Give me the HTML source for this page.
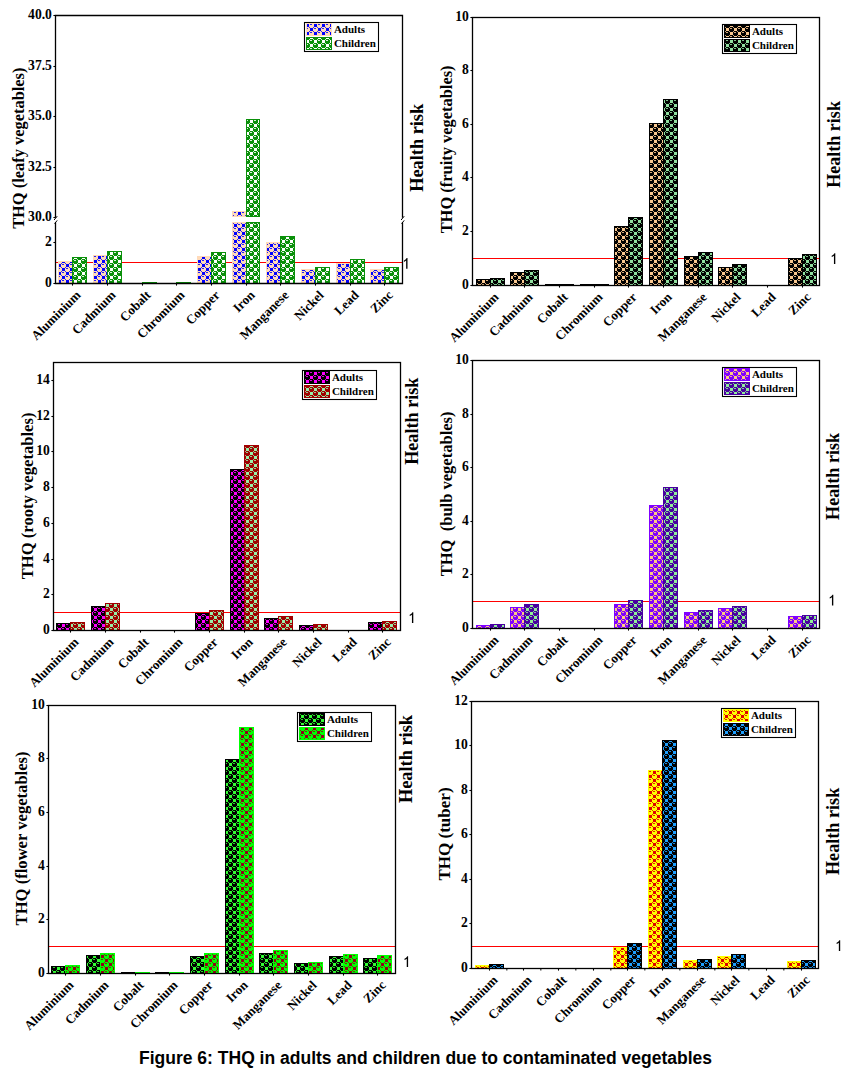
<!DOCTYPE html>
<html><head><meta charset="utf-8"><title>Figure 6</title>
<style>
html,body{margin:0;padding:0;background:#fff;}
body{width:849px;height:1081px;overflow:hidden;font-family:"Liberation Serif",serif;}
svg{display:block;}
text{fill:#000;}
</style></head><body>
<svg width="849" height="1081" viewBox="0 0 849 1081">
<rect width="849" height="1081" fill="#fff"/>
<defs>
<pattern id="p1a" width="8" height="8" patternUnits="userSpaceOnUse" patternTransform="translate(2,0)"><rect width="8" height="8" fill="#FFDAB9"/><path d="M0 0h3v3h-3zM4 4h3v3h-3z" fill="#0000FF" shape-rendering="crispEdges"/><path d="M4 0h2v1h-2zM0 4h2v1h-2z" fill="#0000FF" fill-opacity="0.85" shape-rendering="crispEdges"/><path d="M3 3h1v1h-1zM7 3h1v1h-1zM3 7h1v1h-1zM7 7h1v1h-1z" fill="#0000FF" fill-opacity="0.8" shape-rendering="crispEdges"/></pattern>
<pattern id="p1c" width="8" height="8" patternUnits="userSpaceOnUse" patternTransform="translate(2,0)"><rect width="8" height="8" fill="#0A900A"/><path d="M0 0h3v3h-3zM4 4h3v3h-3z" fill="#FFFFFF" shape-rendering="crispEdges"/><path d="M4 0h2v1h-2zM0 4h2v1h-2z" fill="#FFFFFF" fill-opacity="0.85" shape-rendering="crispEdges"/><path d="M3 3h1v1h-1zM7 3h1v1h-1zM3 7h1v1h-1zM7 7h1v1h-1z" fill="#FFFFFF" fill-opacity="0.8" shape-rendering="crispEdges"/></pattern>
<pattern id="p2a" width="8" height="8" patternUnits="userSpaceOnUse" patternTransform="translate(2,0)"><rect width="8" height="8" fill="#000000"/><path d="M0 0h3v3h-3zM4 4h3v3h-3z" fill="#FAC890" shape-rendering="crispEdges"/><path d="M4 0h2v1h-2zM0 4h2v1h-2z" fill="#FAC890" fill-opacity="0.85" shape-rendering="crispEdges"/><path d="M3 3h1v1h-1zM7 3h1v1h-1zM3 7h1v1h-1zM7 7h1v1h-1z" fill="#FAC890" fill-opacity="0.8" shape-rendering="crispEdges"/></pattern>
<pattern id="p2c" width="8" height="8" patternUnits="userSpaceOnUse" patternTransform="translate(2,0)"><rect width="8" height="8" fill="#000000"/><path d="M0 0h3v3h-3zM4 4h3v3h-3z" fill="#90E0A0" shape-rendering="crispEdges"/><path d="M4 0h2v1h-2zM0 4h2v1h-2z" fill="#90E0A0" fill-opacity="0.85" shape-rendering="crispEdges"/><path d="M3 3h1v1h-1zM7 3h1v1h-1zM3 7h1v1h-1zM7 7h1v1h-1z" fill="#90E0A0" fill-opacity="0.8" shape-rendering="crispEdges"/></pattern>
<pattern id="p3a" width="8" height="8" patternUnits="userSpaceOnUse" patternTransform="translate(6,0)"><rect width="8" height="8" fill="#000000"/><path d="M0 0h3v3h-3zM4 4h3v3h-3z" fill="#FF00FF" shape-rendering="crispEdges"/><path d="M4 0h2v1h-2zM0 4h2v1h-2z" fill="#FF00FF" fill-opacity="0.85" shape-rendering="crispEdges"/><path d="M3 3h1v1h-1zM7 3h1v1h-1zM3 7h1v1h-1zM7 7h1v1h-1z" fill="#FF00FF" fill-opacity="0.8" shape-rendering="crispEdges"/></pattern>
<pattern id="p3c" width="8" height="8" patternUnits="userSpaceOnUse" patternTransform="translate(6,0)"><rect width="8" height="8" fill="#A00000"/><path d="M0 0h3v3h-3zM4 4h3v3h-3z" fill="#98F0A8" shape-rendering="crispEdges"/><path d="M4 0h2v1h-2zM0 4h2v1h-2z" fill="#98F0A8" fill-opacity="0.85" shape-rendering="crispEdges"/><path d="M3 3h1v1h-1zM7 3h1v1h-1zM3 7h1v1h-1zM7 7h1v1h-1z" fill="#98F0A8" fill-opacity="0.8" shape-rendering="crispEdges"/></pattern>
<pattern id="p4a" width="8" height="8" patternUnits="userSpaceOnUse" patternTransform="translate(2,4)"><rect width="8" height="8" fill="#8000FF"/><path d="M0 0h3v3h-3zM4 4h3v3h-3z" fill="#FFCC80" shape-rendering="crispEdges"/><path d="M4 0h2v1h-2zM0 4h2v1h-2z" fill="#FFCC80" fill-opacity="0.85" shape-rendering="crispEdges"/><path d="M3 3h1v1h-1zM7 3h1v1h-1zM3 7h1v1h-1zM7 7h1v1h-1z" fill="#FFCC80" fill-opacity="0.8" shape-rendering="crispEdges"/></pattern>
<pattern id="p4c" width="8" height="8" patternUnits="userSpaceOnUse" patternTransform="translate(2,4)"><rect width="8" height="8" fill="#4800A0"/><path d="M0 0h3v3h-3zM4 4h3v3h-3z" fill="#90F098" shape-rendering="crispEdges"/><path d="M4 0h2v1h-2zM0 4h2v1h-2z" fill="#90F098" fill-opacity="0.85" shape-rendering="crispEdges"/><path d="M3 3h1v1h-1zM7 3h1v1h-1zM3 7h1v1h-1zM7 7h1v1h-1z" fill="#90F098" fill-opacity="0.8" shape-rendering="crispEdges"/></pattern>
<pattern id="p5a" width="8" height="8" patternUnits="userSpaceOnUse" patternTransform="translate(5,3)"><rect width="8" height="8" fill="#000000"/><path d="M0 0h3v3h-3zM4 4h3v3h-3z" fill="#33FF33" shape-rendering="crispEdges"/><path d="M4 0h2v1h-2zM0 4h2v1h-2z" fill="#33FF33" fill-opacity="0.85" shape-rendering="crispEdges"/><path d="M3 3h1v1h-1zM7 3h1v1h-1zM3 7h1v1h-1zM7 7h1v1h-1z" fill="#33FF33" fill-opacity="0.8" shape-rendering="crispEdges"/></pattern>
<pattern id="p5c" width="8" height="8" patternUnits="userSpaceOnUse" patternTransform="translate(5,3)"><rect width="8" height="8" fill="#00FF00"/><path d="M0 0h3v3h-3zM4 4h3v3h-3z" fill="#900018" shape-rendering="crispEdges"/><path d="M4 0h2v1h-2zM0 4h2v1h-2z" fill="#900018" fill-opacity="0.85" shape-rendering="crispEdges"/><path d="M3 3h1v1h-1zM7 3h1v1h-1zM3 7h1v1h-1zM7 7h1v1h-1z" fill="#900018" fill-opacity="0.8" shape-rendering="crispEdges"/></pattern>
<pattern id="p6a" width="8" height="8" patternUnits="userSpaceOnUse" patternTransform="translate(5,3)"><rect width="8" height="8" fill="#FFFF00"/><path d="M0 0h3v3h-3zM4 4h3v3h-3z" fill="#DD0000" shape-rendering="crispEdges"/><path d="M4 0h2v1h-2zM0 4h2v1h-2z" fill="#DD0000" fill-opacity="0.85" shape-rendering="crispEdges"/><path d="M3 3h1v1h-1zM7 3h1v1h-1zM3 7h1v1h-1zM7 7h1v1h-1z" fill="#DD0000" fill-opacity="0.8" shape-rendering="crispEdges"/></pattern>
<pattern id="p6c" width="8" height="8" patternUnits="userSpaceOnUse" patternTransform="translate(5,3)"><rect width="8" height="8" fill="#000000"/><path d="M0 0h3v3h-3zM4 4h3v3h-3z" fill="#1E9FFF" shape-rendering="crispEdges"/><path d="M4 0h2v1h-2zM0 4h2v1h-2z" fill="#1E9FFF" fill-opacity="0.85" shape-rendering="crispEdges"/><path d="M3 3h1v1h-1zM7 3h1v1h-1zM3 7h1v1h-1zM7 7h1v1h-1z" fill="#1E9FFF" fill-opacity="0.8" shape-rendering="crispEdges"/></pattern>
</defs>
<g id="panel1"><line x1="55.5" y1="262.50" x2="402.5" y2="262.50" stroke="#FF0000" stroke-width="1.1"/>
<rect x="58.50" y="261.50" width="14" height="22.00" fill="url(#p1a)" stroke="#FFDAB9" stroke-width="1"/>
<rect x="72.50" y="257.50" width="14" height="26.00" fill="url(#p1c)" stroke="#0A900A" stroke-width="1"/>
<rect x="93.50" y="255.50" width="14" height="28.00" fill="url(#p1a)" stroke="#FFDAB9" stroke-width="1"/>
<rect x="107.50" y="251.50" width="14" height="32.00" fill="url(#p1c)" stroke="#0A900A" stroke-width="1"/>
<rect x="128.50" y="283.50" width="14" height="0.00" fill="url(#p1a)" stroke="#FFDAB9" stroke-width="1"/>
<rect x="142.50" y="282.50" width="14" height="1.00" fill="url(#p1c)" stroke="#0A900A" stroke-width="1"/>
<rect x="162.50" y="283.50" width="14" height="0.00" fill="url(#p1a)" stroke="#FFDAB9" stroke-width="1"/>
<rect x="176.50" y="282.50" width="14" height="1.00" fill="url(#p1c)" stroke="#0A900A" stroke-width="1"/>
<rect x="197.50" y="256.50" width="14" height="27.00" fill="url(#p1a)" stroke="#FFDAB9" stroke-width="1"/>
<rect x="211.50" y="252.50" width="14" height="31.00" fill="url(#p1c)" stroke="#0A900A" stroke-width="1"/>
<rect x="232.50" y="222.5" width="14" height="61.00" fill="url(#p1a)" stroke="#FFDAB9" stroke-width="1"/>
<rect x="232.50" y="211.50" width="14" height="5.00" fill="url(#p1a)" stroke="#FFDAB9" stroke-width="1"/>
<rect x="246.50" y="222.5" width="13" height="61.00" fill="url(#p1c)" stroke="#0A900A" stroke-width="1"/>
<rect x="246.50" y="119.50" width="13" height="97.00" fill="url(#p1c)" stroke="#0A900A" stroke-width="1"/>
<rect x="266.50" y="242.50" width="14" height="41.00" fill="url(#p1a)" stroke="#FFDAB9" stroke-width="1"/>
<rect x="280.50" y="236.50" width="14" height="47.00" fill="url(#p1c)" stroke="#0A900A" stroke-width="1"/>
<rect x="301.50" y="269.50" width="14" height="14.00" fill="url(#p1a)" stroke="#FFDAB9" stroke-width="1"/>
<rect x="315.50" y="267.50" width="14" height="16.00" fill="url(#p1c)" stroke="#0A900A" stroke-width="1"/>
<rect x="336.50" y="263.50" width="14" height="20.00" fill="url(#p1a)" stroke="#FFDAB9" stroke-width="1"/>
<rect x="350.50" y="259.50" width="14" height="24.00" fill="url(#p1c)" stroke="#0A900A" stroke-width="1"/>
<rect x="370.50" y="269.50" width="14" height="14.00" fill="url(#p1a)" stroke="#FFDAB9" stroke-width="1"/>
<rect x="384.50" y="267.50" width="14" height="16.00" fill="url(#p1c)" stroke="#0A900A" stroke-width="1"/>
<path d="M55.5 217.8 V15.5 H402.5 V217.8 M402.5 222.2 V283.5 H55.5 V222.2" fill="none" stroke="#000" stroke-width="1.3"/>
<path d="M54.1 220 L57.2 216.2 M54.6 223.7 L57.2 220.4" stroke="#000" stroke-width="1" fill="none"/>
<path d="M401.1 220 L404.2 216.2 M401.6 223.7 L404.2 220.4" stroke="#000" stroke-width="1" fill="none"/>
<line x1="53.4" y1="283.50" x2="55.5" y2="283.50" stroke="#000" stroke-width="1.1"/>
<text x="51.90" y="287.10" text-anchor="end" font-family="Liberation Serif, serif" font-weight="bold" font-size="13.6">0</text>
<line x1="53.4" y1="242.50" x2="55.5" y2="242.50" stroke="#000" stroke-width="1.1"/>
<text x="51.90" y="246.10" text-anchor="end" font-family="Liberation Serif, serif" font-weight="bold" font-size="13.6">2</text>
<line x1="53.4" y1="217.50" x2="55.5" y2="217.50" stroke="#000" stroke-width="1.1"/>
<text x="51.90" y="221.10" text-anchor="end" font-family="Liberation Serif, serif" font-weight="bold" font-size="13.6">30.0</text>
<line x1="53.4" y1="167.50" x2="55.5" y2="167.50" stroke="#000" stroke-width="1.1"/>
<text x="51.90" y="171.10" text-anchor="end" font-family="Liberation Serif, serif" font-weight="bold" font-size="13.6">32.5</text>
<line x1="53.4" y1="116.50" x2="55.5" y2="116.50" stroke="#000" stroke-width="1.1"/>
<text x="51.90" y="120.10" text-anchor="end" font-family="Liberation Serif, serif" font-weight="bold" font-size="13.6">35.0</text>
<line x1="53.4" y1="66.50" x2="55.5" y2="66.50" stroke="#000" stroke-width="1.1"/>
<text x="51.90" y="70.10" text-anchor="end" font-family="Liberation Serif, serif" font-weight="bold" font-size="13.6">37.5</text>
<line x1="53.4" y1="15.50" x2="55.5" y2="15.50" stroke="#000" stroke-width="1.1"/>
<text x="51.90" y="19.10" text-anchor="end" font-family="Liberation Serif, serif" font-weight="bold" font-size="13.6">40.0</text>
<line x1="72.50" y1="283.5" x2="72.50" y2="285.6" stroke="#000" stroke-width="1.1"/>
<text transform="translate(81.50,295.90) rotate(-45)" text-anchor="end" font-family="Liberation Serif, serif" font-weight="bold" font-size="13">Aluminium</text>
<line x1="107.50" y1="283.5" x2="107.50" y2="285.6" stroke="#000" stroke-width="1.1"/>
<text transform="translate(116.50,295.90) rotate(-45)" text-anchor="end" font-family="Liberation Serif, serif" font-weight="bold" font-size="13">Cadmium</text>
<line x1="142.50" y1="283.5" x2="142.50" y2="285.6" stroke="#000" stroke-width="1.1"/>
<text transform="translate(151.50,295.90) rotate(-45)" text-anchor="end" font-family="Liberation Serif, serif" font-weight="bold" font-size="13">Cobalt</text>
<line x1="176.50" y1="283.5" x2="176.50" y2="285.6" stroke="#000" stroke-width="1.1"/>
<text transform="translate(185.50,295.90) rotate(-45)" text-anchor="end" font-family="Liberation Serif, serif" font-weight="bold" font-size="13">Chromium</text>
<line x1="211.50" y1="283.5" x2="211.50" y2="285.6" stroke="#000" stroke-width="1.1"/>
<text transform="translate(220.50,295.90) rotate(-45)" text-anchor="end" font-family="Liberation Serif, serif" font-weight="bold" font-size="13">Copper</text>
<line x1="246.50" y1="283.5" x2="246.50" y2="285.6" stroke="#000" stroke-width="1.1"/>
<text transform="translate(255.50,295.90) rotate(-45)" text-anchor="end" font-family="Liberation Serif, serif" font-weight="bold" font-size="13">Iron</text>
<line x1="280.50" y1="283.5" x2="280.50" y2="285.6" stroke="#000" stroke-width="1.1"/>
<text transform="translate(289.50,295.90) rotate(-45)" text-anchor="end" font-family="Liberation Serif, serif" font-weight="bold" font-size="13">Manganese</text>
<line x1="315.50" y1="283.5" x2="315.50" y2="285.6" stroke="#000" stroke-width="1.1"/>
<text transform="translate(324.50,295.90) rotate(-45)" text-anchor="end" font-family="Liberation Serif, serif" font-weight="bold" font-size="13">Nickel</text>
<line x1="350.50" y1="283.5" x2="350.50" y2="285.6" stroke="#000" stroke-width="1.1"/>
<text transform="translate(359.50,295.90) rotate(-45)" text-anchor="end" font-family="Liberation Serif, serif" font-weight="bold" font-size="13">Lead</text>
<line x1="384.50" y1="283.5" x2="384.50" y2="285.6" stroke="#000" stroke-width="1.1"/>
<text transform="translate(393.50,295.90) rotate(-45)" text-anchor="end" font-family="Liberation Serif, serif" font-weight="bold" font-size="13">Zinc</text>
<text transform="translate(24.0,228.85) rotate(-90)" xml:space="preserve" textLength="161.3" lengthAdjust="spacingAndGlyphs" font-family="Liberation Serif, serif" font-weight="bold" font-size="16.5">THQ (leafy vegetables)</text>
<text transform="translate(422.8,191.75) rotate(-90)" textLength="87.9" lengthAdjust="spacingAndGlyphs" font-family="Liberation Serif, serif" font-weight="bold" font-size="18.2">Health risk</text>
<path transform="translate(407.5,268.8)" d="M0 0V-10.7H-0.9C-1.3 -9.7 -2.4 -8.7 -3.6 -8.1V-6.8C-2.8 -7.1 -1.9 -7.65 -1.35 -8.2V0Z" fill="#000"/>
<rect x="304.50" y="22.50" width="74" height="29" fill="#fff" stroke="#000" stroke-width="1.1"/>
<rect x="306.50" y="23.50" width="25" height="12" fill="url(#p1a)" stroke="#FFDAB9" stroke-width="1"/>
<rect x="306.50" y="37.50" width="25" height="12" fill="url(#p1c)" stroke="#0A900A" stroke-width="1"/>
<text x="333.90" y="33.00" font-family="Liberation Serif, serif" font-weight="bold" font-size="11">Adults</text>
<text x="333.90" y="46.50" font-family="Liberation Serif, serif" font-weight="bold" font-size="11">Children</text></g>
<g id="panel2"><line x1="472.5" y1="258.50" x2="819.5" y2="258.50" stroke="#FF0000" stroke-width="1.1"/>
<rect x="476.50" y="279.50" width="14" height="6.00" fill="url(#p2a)" stroke="#000000" stroke-width="1"/>
<rect x="490.50" y="278.50" width="14" height="7.00" fill="url(#p2c)" stroke="#000000" stroke-width="1"/>
<rect x="510.50" y="272.50" width="14" height="13.00" fill="url(#p2a)" stroke="#000000" stroke-width="1"/>
<rect x="524.50" y="270.50" width="14" height="15.00" fill="url(#p2c)" stroke="#000000" stroke-width="1"/>
<rect x="545.50" y="284.50" width="14" height="1.00" fill="url(#p2a)" stroke="#000000" stroke-width="1"/>
<rect x="559.50" y="284.50" width="14" height="1.00" fill="url(#p2c)" stroke="#000000" stroke-width="1"/>
<rect x="580.50" y="284.50" width="14" height="1.00" fill="url(#p2a)" stroke="#000000" stroke-width="1"/>
<rect x="594.50" y="284.50" width="14" height="1.00" fill="url(#p2c)" stroke="#000000" stroke-width="1"/>
<rect x="614.50" y="226.50" width="14" height="59.00" fill="url(#p2a)" stroke="#000000" stroke-width="1"/>
<rect x="628.50" y="217.50" width="14" height="68.00" fill="url(#p2c)" stroke="#000000" stroke-width="1"/>
<rect x="649.50" y="123.50" width="14" height="162.00" fill="url(#p2a)" stroke="#000000" stroke-width="1"/>
<rect x="663.50" y="99.50" width="14" height="186.00" fill="url(#p2c)" stroke="#000000" stroke-width="1"/>
<rect x="684.50" y="256.50" width="14" height="29.00" fill="url(#p2a)" stroke="#000000" stroke-width="1"/>
<rect x="698.50" y="252.50" width="14" height="33.00" fill="url(#p2c)" stroke="#000000" stroke-width="1"/>
<rect x="718.50" y="267.50" width="14" height="18.00" fill="url(#p2a)" stroke="#000000" stroke-width="1"/>
<rect x="732.50" y="264.50" width="14" height="21.00" fill="url(#p2c)" stroke="#000000" stroke-width="1"/>
<rect x="788.50" y="258.50" width="14" height="27.00" fill="url(#p2a)" stroke="#000000" stroke-width="1"/>
<rect x="802.50" y="254.50" width="14" height="31.00" fill="url(#p2c)" stroke="#000000" stroke-width="1"/>
<rect x="472.5" y="17.5" width="347.00" height="268.00" fill="none" stroke="#000" stroke-width="1.3"/>
<line x1="470.4" y1="285.50" x2="472.5" y2="285.50" stroke="#000" stroke-width="1.1"/>
<text x="468.90" y="289.10" text-anchor="end" font-family="Liberation Serif, serif" font-weight="bold" font-size="13.6">0</text>
<line x1="470.4" y1="231.50" x2="472.5" y2="231.50" stroke="#000" stroke-width="1.1"/>
<text x="468.90" y="235.10" text-anchor="end" font-family="Liberation Serif, serif" font-weight="bold" font-size="13.6">2</text>
<line x1="470.4" y1="177.50" x2="472.5" y2="177.50" stroke="#000" stroke-width="1.1"/>
<text x="468.90" y="181.10" text-anchor="end" font-family="Liberation Serif, serif" font-weight="bold" font-size="13.6">4</text>
<line x1="470.4" y1="124.50" x2="472.5" y2="124.50" stroke="#000" stroke-width="1.1"/>
<text x="468.90" y="128.10" text-anchor="end" font-family="Liberation Serif, serif" font-weight="bold" font-size="13.6">6</text>
<line x1="470.4" y1="70.50" x2="472.5" y2="70.50" stroke="#000" stroke-width="1.1"/>
<text x="468.90" y="74.10" text-anchor="end" font-family="Liberation Serif, serif" font-weight="bold" font-size="13.6">8</text>
<line x1="470.4" y1="17.50" x2="472.5" y2="17.50" stroke="#000" stroke-width="1.1"/>
<text x="468.90" y="21.10" text-anchor="end" font-family="Liberation Serif, serif" font-weight="bold" font-size="13.6">10</text>
<line x1="490.50" y1="285.5" x2="490.50" y2="287.6" stroke="#000" stroke-width="1.1"/>
<text transform="translate(499.50,297.90) rotate(-45)" text-anchor="end" font-family="Liberation Serif, serif" font-weight="bold" font-size="13">Aluminium</text>
<line x1="524.50" y1="285.5" x2="524.50" y2="287.6" stroke="#000" stroke-width="1.1"/>
<text transform="translate(533.50,297.90) rotate(-45)" text-anchor="end" font-family="Liberation Serif, serif" font-weight="bold" font-size="13">Cadmium</text>
<line x1="559.50" y1="285.5" x2="559.50" y2="287.6" stroke="#000" stroke-width="1.1"/>
<text transform="translate(568.50,297.90) rotate(-45)" text-anchor="end" font-family="Liberation Serif, serif" font-weight="bold" font-size="13">Cobalt</text>
<line x1="594.50" y1="285.5" x2="594.50" y2="287.6" stroke="#000" stroke-width="1.1"/>
<text transform="translate(603.50,297.90) rotate(-45)" text-anchor="end" font-family="Liberation Serif, serif" font-weight="bold" font-size="13">Chromium</text>
<line x1="628.50" y1="285.5" x2="628.50" y2="287.6" stroke="#000" stroke-width="1.1"/>
<text transform="translate(637.50,297.90) rotate(-45)" text-anchor="end" font-family="Liberation Serif, serif" font-weight="bold" font-size="13">Copper</text>
<line x1="663.50" y1="285.5" x2="663.50" y2="287.6" stroke="#000" stroke-width="1.1"/>
<text transform="translate(672.50,297.90) rotate(-45)" text-anchor="end" font-family="Liberation Serif, serif" font-weight="bold" font-size="13">Iron</text>
<line x1="698.50" y1="285.5" x2="698.50" y2="287.6" stroke="#000" stroke-width="1.1"/>
<text transform="translate(707.50,297.90) rotate(-45)" text-anchor="end" font-family="Liberation Serif, serif" font-weight="bold" font-size="13">Manganese</text>
<line x1="732.50" y1="285.5" x2="732.50" y2="287.6" stroke="#000" stroke-width="1.1"/>
<text transform="translate(741.50,297.90) rotate(-45)" text-anchor="end" font-family="Liberation Serif, serif" font-weight="bold" font-size="13">Nickel</text>
<line x1="767.50" y1="285.5" x2="767.50" y2="287.6" stroke="#000" stroke-width="1.1"/>
<text transform="translate(776.50,297.90) rotate(-45)" text-anchor="end" font-family="Liberation Serif, serif" font-weight="bold" font-size="13">Lead</text>
<line x1="802.50" y1="285.5" x2="802.50" y2="287.6" stroke="#000" stroke-width="1.1"/>
<text transform="translate(811.50,297.90) rotate(-45)" text-anchor="end" font-family="Liberation Serif, serif" font-weight="bold" font-size="13">Zinc</text>
<text transform="translate(451.5,233.35) rotate(-90)" xml:space="preserve" textLength="167.9" lengthAdjust="spacingAndGlyphs" font-family="Liberation Serif, serif" font-weight="bold" font-size="16.5">THQ (fruity vegetables)</text>
<text transform="translate(840.0,187.70) rotate(-90)" textLength="86.6" lengthAdjust="spacingAndGlyphs" font-family="Liberation Serif, serif" font-weight="bold" font-size="18.2">Health risk</text>
<path transform="translate(835.3,263.9)" d="M0 0V-10.7H-0.9C-1.3 -9.7 -2.4 -8.7 -3.6 -8.1V-6.8C-2.8 -7.1 -1.9 -7.65 -1.35 -8.2V0Z" fill="#000"/>
<rect x="722.50" y="24.50" width="74" height="29" fill="#fff" stroke="#000" stroke-width="1.1"/>
<rect x="724.50" y="25.50" width="25" height="12" fill="url(#p2a)" stroke="#000000" stroke-width="1"/>
<rect x="724.50" y="39.50" width="25" height="12" fill="url(#p2c)" stroke="#000000" stroke-width="1"/>
<text x="751.90" y="35.00" font-family="Liberation Serif, serif" font-weight="bold" font-size="11">Adults</text>
<text x="751.90" y="48.50" font-family="Liberation Serif, serif" font-weight="bold" font-size="11">Children</text></g>
<g id="panel3"><line x1="53.5" y1="612.50" x2="400.5" y2="612.50" stroke="#FF0000" stroke-width="1.1"/>
<rect x="56.50" y="623.50" width="14" height="7.00" fill="url(#p3a)" stroke="#000000" stroke-width="1"/>
<rect x="70.50" y="622.50" width="14" height="8.00" fill="url(#p3c)" stroke="#A00000" stroke-width="1"/>
<rect x="91.50" y="606.50" width="14" height="24.00" fill="url(#p3a)" stroke="#000000" stroke-width="1"/>
<rect x="105.50" y="603.50" width="14" height="27.00" fill="url(#p3c)" stroke="#A00000" stroke-width="1"/>
<rect x="195.50" y="613.50" width="14" height="17.00" fill="url(#p3a)" stroke="#000000" stroke-width="1"/>
<rect x="209.50" y="610.50" width="14" height="20.00" fill="url(#p3c)" stroke="#A00000" stroke-width="1"/>
<rect x="230.50" y="469.50" width="14" height="161.00" fill="url(#p3a)" stroke="#000000" stroke-width="1"/>
<rect x="244.50" y="445.50" width="14" height="185.00" fill="url(#p3c)" stroke="#A00000" stroke-width="1"/>
<rect x="264.50" y="618.50" width="14" height="12.00" fill="url(#p3a)" stroke="#000000" stroke-width="1"/>
<rect x="278.50" y="616.50" width="14" height="14.00" fill="url(#p3c)" stroke="#A00000" stroke-width="1"/>
<rect x="299.50" y="625.50" width="14" height="5.00" fill="url(#p3a)" stroke="#000000" stroke-width="1"/>
<rect x="313.50" y="624.50" width="14" height="6.00" fill="url(#p3c)" stroke="#A00000" stroke-width="1"/>
<rect x="368.50" y="622.50" width="14" height="8.00" fill="url(#p3a)" stroke="#000000" stroke-width="1"/>
<rect x="382.50" y="621.50" width="14" height="9.00" fill="url(#p3c)" stroke="#A00000" stroke-width="1"/>
<rect x="53.5" y="362.5" width="347.00" height="268.00" fill="none" stroke="#000" stroke-width="1.3"/>
<line x1="51.4" y1="630.50" x2="53.5" y2="630.50" stroke="#000" stroke-width="1.1"/>
<text x="49.90" y="634.10" text-anchor="end" font-family="Liberation Serif, serif" font-weight="bold" font-size="13.6">0</text>
<line x1="51.4" y1="594.50" x2="53.5" y2="594.50" stroke="#000" stroke-width="1.1"/>
<text x="49.90" y="598.10" text-anchor="end" font-family="Liberation Serif, serif" font-weight="bold" font-size="13.6">2</text>
<line x1="51.4" y1="559.50" x2="53.5" y2="559.50" stroke="#000" stroke-width="1.1"/>
<text x="49.90" y="563.10" text-anchor="end" font-family="Liberation Serif, serif" font-weight="bold" font-size="13.6">4</text>
<line x1="51.4" y1="523.50" x2="53.5" y2="523.50" stroke="#000" stroke-width="1.1"/>
<text x="49.90" y="527.10" text-anchor="end" font-family="Liberation Serif, serif" font-weight="bold" font-size="13.6">6</text>
<line x1="51.4" y1="487.50" x2="53.5" y2="487.50" stroke="#000" stroke-width="1.1"/>
<text x="49.90" y="491.10" text-anchor="end" font-family="Liberation Serif, serif" font-weight="bold" font-size="13.6">8</text>
<line x1="51.4" y1="451.50" x2="53.5" y2="451.50" stroke="#000" stroke-width="1.1"/>
<text x="49.90" y="455.10" text-anchor="end" font-family="Liberation Serif, serif" font-weight="bold" font-size="13.6">10</text>
<line x1="51.4" y1="416.50" x2="53.5" y2="416.50" stroke="#000" stroke-width="1.1"/>
<text x="49.90" y="420.10" text-anchor="end" font-family="Liberation Serif, serif" font-weight="bold" font-size="13.6">12</text>
<line x1="51.4" y1="380.50" x2="53.5" y2="380.50" stroke="#000" stroke-width="1.1"/>
<text x="49.90" y="384.10" text-anchor="end" font-family="Liberation Serif, serif" font-weight="bold" font-size="13.6">14</text>
<line x1="70.50" y1="630.5" x2="70.50" y2="632.6" stroke="#000" stroke-width="1.1"/>
<text transform="translate(79.50,642.90) rotate(-45)" text-anchor="end" font-family="Liberation Serif, serif" font-weight="bold" font-size="13">Aluminium</text>
<line x1="105.50" y1="630.5" x2="105.50" y2="632.6" stroke="#000" stroke-width="1.1"/>
<text transform="translate(114.50,642.90) rotate(-45)" text-anchor="end" font-family="Liberation Serif, serif" font-weight="bold" font-size="13">Cadmium</text>
<line x1="140.50" y1="630.5" x2="140.50" y2="632.6" stroke="#000" stroke-width="1.1"/>
<text transform="translate(149.50,642.90) rotate(-45)" text-anchor="end" font-family="Liberation Serif, serif" font-weight="bold" font-size="13">Cobalt</text>
<line x1="174.50" y1="630.5" x2="174.50" y2="632.6" stroke="#000" stroke-width="1.1"/>
<text transform="translate(183.50,642.90) rotate(-45)" text-anchor="end" font-family="Liberation Serif, serif" font-weight="bold" font-size="13">Chromium</text>
<line x1="209.50" y1="630.5" x2="209.50" y2="632.6" stroke="#000" stroke-width="1.1"/>
<text transform="translate(218.50,642.90) rotate(-45)" text-anchor="end" font-family="Liberation Serif, serif" font-weight="bold" font-size="13">Copper</text>
<line x1="244.50" y1="630.5" x2="244.50" y2="632.6" stroke="#000" stroke-width="1.1"/>
<text transform="translate(253.50,642.90) rotate(-45)" text-anchor="end" font-family="Liberation Serif, serif" font-weight="bold" font-size="13">Iron</text>
<line x1="278.50" y1="630.5" x2="278.50" y2="632.6" stroke="#000" stroke-width="1.1"/>
<text transform="translate(287.50,642.90) rotate(-45)" text-anchor="end" font-family="Liberation Serif, serif" font-weight="bold" font-size="13">Manganese</text>
<line x1="313.50" y1="630.5" x2="313.50" y2="632.6" stroke="#000" stroke-width="1.1"/>
<text transform="translate(322.50,642.90) rotate(-45)" text-anchor="end" font-family="Liberation Serif, serif" font-weight="bold" font-size="13">Nickel</text>
<line x1="348.50" y1="630.5" x2="348.50" y2="632.6" stroke="#000" stroke-width="1.1"/>
<text transform="translate(357.50,642.90) rotate(-45)" text-anchor="end" font-family="Liberation Serif, serif" font-weight="bold" font-size="13">Lead</text>
<line x1="382.50" y1="630.5" x2="382.50" y2="632.6" stroke="#000" stroke-width="1.1"/>
<text transform="translate(391.50,642.90) rotate(-45)" text-anchor="end" font-family="Liberation Serif, serif" font-weight="bold" font-size="13">Zinc</text>
<text transform="translate(32.6,579.30) rotate(-90)" xml:space="preserve" textLength="166.8" lengthAdjust="spacingAndGlyphs" font-family="Liberation Serif, serif" font-weight="bold" font-size="16.5">THQ (rooty vegetables)</text>
<text transform="translate(417.9,464.85) rotate(-90)" textLength="87.3" lengthAdjust="spacingAndGlyphs" font-family="Liberation Serif, serif" font-weight="bold" font-size="18.2">Health risk</text>
<path transform="translate(413.3,622.9)" d="M0 0V-10.7H-0.9C-1.3 -9.7 -2.4 -8.7 -3.6 -8.1V-6.8C-2.8 -7.1 -1.9 -7.65 -1.35 -8.2V0Z" fill="#000"/>
<rect x="302.50" y="370.50" width="74" height="29" fill="#fff" stroke="#000" stroke-width="1.1"/>
<rect x="304.50" y="371.50" width="25" height="12" fill="url(#p3a)" stroke="#000000" stroke-width="1"/>
<rect x="304.50" y="385.50" width="25" height="12" fill="url(#p3c)" stroke="#A00000" stroke-width="1"/>
<text x="331.90" y="381.00" font-family="Liberation Serif, serif" font-weight="bold" font-size="11">Adults</text>
<text x="331.90" y="394.50" font-family="Liberation Serif, serif" font-weight="bold" font-size="11">Children</text></g>
<g id="panel4"><line x1="472.5" y1="601.50" x2="819.5" y2="601.50" stroke="#FF0000" stroke-width="1.1"/>
<rect x="476.50" y="625.50" width="14" height="3.00" fill="url(#p4a)" stroke="#8000FF" stroke-width="1"/>
<rect x="490.50" y="624.50" width="14" height="4.00" fill="url(#p4c)" stroke="#4800A0" stroke-width="1"/>
<rect x="510.50" y="607.50" width="14" height="21.00" fill="url(#p4a)" stroke="#8000FF" stroke-width="1"/>
<rect x="524.50" y="604.50" width="14" height="24.00" fill="url(#p4c)" stroke="#4800A0" stroke-width="1"/>
<rect x="614.50" y="604.50" width="14" height="24.00" fill="url(#p4a)" stroke="#8000FF" stroke-width="1"/>
<rect x="628.50" y="600.50" width="14" height="28.00" fill="url(#p4c)" stroke="#4800A0" stroke-width="1"/>
<rect x="649.50" y="505.50" width="14" height="123.00" fill="url(#p4a)" stroke="#8000FF" stroke-width="1"/>
<rect x="663.50" y="487.50" width="14" height="141.00" fill="url(#p4c)" stroke="#4800A0" stroke-width="1"/>
<rect x="684.50" y="612.50" width="14" height="16.00" fill="url(#p4a)" stroke="#8000FF" stroke-width="1"/>
<rect x="698.50" y="610.50" width="14" height="18.00" fill="url(#p4c)" stroke="#4800A0" stroke-width="1"/>
<rect x="718.50" y="608.50" width="14" height="20.00" fill="url(#p4a)" stroke="#8000FF" stroke-width="1"/>
<rect x="732.50" y="606.50" width="14" height="22.00" fill="url(#p4c)" stroke="#4800A0" stroke-width="1"/>
<rect x="788.50" y="616.50" width="14" height="12.00" fill="url(#p4a)" stroke="#8000FF" stroke-width="1"/>
<rect x="802.50" y="615.50" width="14" height="13.00" fill="url(#p4c)" stroke="#4800A0" stroke-width="1"/>
<rect x="472.5" y="360.5" width="347.00" height="268.00" fill="none" stroke="#000" stroke-width="1.3"/>
<line x1="470.4" y1="628.50" x2="472.5" y2="628.50" stroke="#000" stroke-width="1.1"/>
<text x="468.90" y="632.10" text-anchor="end" font-family="Liberation Serif, serif" font-weight="bold" font-size="13.6">0</text>
<line x1="470.4" y1="574.50" x2="472.5" y2="574.50" stroke="#000" stroke-width="1.1"/>
<text x="468.90" y="578.10" text-anchor="end" font-family="Liberation Serif, serif" font-weight="bold" font-size="13.6">2</text>
<line x1="470.4" y1="521.50" x2="472.5" y2="521.50" stroke="#000" stroke-width="1.1"/>
<text x="468.90" y="525.10" text-anchor="end" font-family="Liberation Serif, serif" font-weight="bold" font-size="13.6">4</text>
<line x1="470.4" y1="467.50" x2="472.5" y2="467.50" stroke="#000" stroke-width="1.1"/>
<text x="468.90" y="471.10" text-anchor="end" font-family="Liberation Serif, serif" font-weight="bold" font-size="13.6">6</text>
<line x1="470.4" y1="414.50" x2="472.5" y2="414.50" stroke="#000" stroke-width="1.1"/>
<text x="468.90" y="418.10" text-anchor="end" font-family="Liberation Serif, serif" font-weight="bold" font-size="13.6">8</text>
<line x1="470.4" y1="360.50" x2="472.5" y2="360.50" stroke="#000" stroke-width="1.1"/>
<text x="468.90" y="364.10" text-anchor="end" font-family="Liberation Serif, serif" font-weight="bold" font-size="13.6">10</text>
<line x1="490.50" y1="628.5" x2="490.50" y2="630.6" stroke="#000" stroke-width="1.1"/>
<text transform="translate(499.50,640.90) rotate(-45)" text-anchor="end" font-family="Liberation Serif, serif" font-weight="bold" font-size="13">Aluminium</text>
<line x1="524.50" y1="628.5" x2="524.50" y2="630.6" stroke="#000" stroke-width="1.1"/>
<text transform="translate(533.50,640.90) rotate(-45)" text-anchor="end" font-family="Liberation Serif, serif" font-weight="bold" font-size="13">Cadmium</text>
<line x1="559.50" y1="628.5" x2="559.50" y2="630.6" stroke="#000" stroke-width="1.1"/>
<text transform="translate(568.50,640.90) rotate(-45)" text-anchor="end" font-family="Liberation Serif, serif" font-weight="bold" font-size="13">Cobalt</text>
<line x1="594.50" y1="628.5" x2="594.50" y2="630.6" stroke="#000" stroke-width="1.1"/>
<text transform="translate(603.50,640.90) rotate(-45)" text-anchor="end" font-family="Liberation Serif, serif" font-weight="bold" font-size="13">Chromium</text>
<line x1="628.50" y1="628.5" x2="628.50" y2="630.6" stroke="#000" stroke-width="1.1"/>
<text transform="translate(637.50,640.90) rotate(-45)" text-anchor="end" font-family="Liberation Serif, serif" font-weight="bold" font-size="13">Copper</text>
<line x1="663.50" y1="628.5" x2="663.50" y2="630.6" stroke="#000" stroke-width="1.1"/>
<text transform="translate(672.50,640.90) rotate(-45)" text-anchor="end" font-family="Liberation Serif, serif" font-weight="bold" font-size="13">Iron</text>
<line x1="698.50" y1="628.5" x2="698.50" y2="630.6" stroke="#000" stroke-width="1.1"/>
<text transform="translate(707.50,640.90) rotate(-45)" text-anchor="end" font-family="Liberation Serif, serif" font-weight="bold" font-size="13">Manganese</text>
<line x1="732.50" y1="628.5" x2="732.50" y2="630.6" stroke="#000" stroke-width="1.1"/>
<text transform="translate(741.50,640.90) rotate(-45)" text-anchor="end" font-family="Liberation Serif, serif" font-weight="bold" font-size="13">Nickel</text>
<line x1="767.50" y1="628.5" x2="767.50" y2="630.6" stroke="#000" stroke-width="1.1"/>
<text transform="translate(776.50,640.90) rotate(-45)" text-anchor="end" font-family="Liberation Serif, serif" font-weight="bold" font-size="13">Lead</text>
<line x1="802.50" y1="628.5" x2="802.50" y2="630.6" stroke="#000" stroke-width="1.1"/>
<text transform="translate(811.50,640.90) rotate(-45)" text-anchor="end" font-family="Liberation Serif, serif" font-weight="bold" font-size="13">Zinc</text>
<text transform="translate(451.5,576.30) rotate(-90)" xml:space="preserve" textLength="164.8" lengthAdjust="spacingAndGlyphs" font-family="Liberation Serif, serif" font-weight="bold" font-size="16.5">THQ  (bulb vegetables)</text>
<text transform="translate(838.9,519.90) rotate(-90)" textLength="87.0" lengthAdjust="spacingAndGlyphs" font-family="Liberation Serif, serif" font-weight="bold" font-size="18.2">Health risk</text>
<path transform="translate(833.3,605.4)" d="M0 0V-10.7H-0.9C-1.3 -9.7 -2.4 -8.7 -3.6 -8.1V-6.8C-2.8 -7.1 -1.9 -7.65 -1.35 -8.2V0Z" fill="#000"/>
<rect x="722.50" y="367.50" width="74" height="29" fill="#fff" stroke="#000" stroke-width="1.1"/>
<rect x="724.50" y="368.50" width="25" height="12" fill="url(#p4a)" stroke="#8000FF" stroke-width="1"/>
<rect x="724.50" y="382.50" width="25" height="12" fill="url(#p4c)" stroke="#4800A0" stroke-width="1"/>
<text x="751.90" y="378.00" font-family="Liberation Serif, serif" font-weight="bold" font-size="11">Adults</text>
<text x="751.90" y="391.50" font-family="Liberation Serif, serif" font-weight="bold" font-size="11">Children</text></g>
<g id="panel5"><line x1="48.5" y1="946.50" x2="395.5" y2="946.50" stroke="#FF0000" stroke-width="1.1"/>
<rect x="51.50" y="966.50" width="14" height="7.00" fill="url(#p5a)" stroke="#000000" stroke-width="1"/>
<rect x="65.50" y="965.50" width="14" height="8.00" fill="url(#p5c)" stroke="#00FF00" stroke-width="1"/>
<rect x="86.50" y="955.50" width="14" height="18.00" fill="url(#p5a)" stroke="#000000" stroke-width="1"/>
<rect x="100.50" y="953.50" width="14" height="20.00" fill="url(#p5c)" stroke="#00FF00" stroke-width="1"/>
<rect x="121.50" y="972.50" width="14" height="1.00" fill="url(#p5a)" stroke="#000000" stroke-width="1"/>
<rect x="135.50" y="972.50" width="14" height="1.00" fill="url(#p5c)" stroke="#00FF00" stroke-width="1"/>
<rect x="155.50" y="972.50" width="14" height="1.00" fill="url(#p5a)" stroke="#000000" stroke-width="1"/>
<rect x="169.50" y="972.50" width="14" height="1.00" fill="url(#p5c)" stroke="#00FF00" stroke-width="1"/>
<rect x="190.50" y="956.50" width="14" height="17.00" fill="url(#p5a)" stroke="#000000" stroke-width="1"/>
<rect x="204.50" y="953.50" width="14" height="20.00" fill="url(#p5c)" stroke="#00FF00" stroke-width="1"/>
<rect x="225.50" y="759.50" width="14" height="214.00" fill="url(#p5a)" stroke="#000000" stroke-width="1"/>
<rect x="239.50" y="727.50" width="14" height="246.00" fill="url(#p5c)" stroke="#00FF00" stroke-width="1"/>
<rect x="259.50" y="953.50" width="14" height="20.00" fill="url(#p5a)" stroke="#000000" stroke-width="1"/>
<rect x="273.50" y="950.50" width="14" height="23.00" fill="url(#p5c)" stroke="#00FF00" stroke-width="1"/>
<rect x="294.50" y="963.50" width="14" height="10.00" fill="url(#p5a)" stroke="#000000" stroke-width="1"/>
<rect x="308.50" y="962.50" width="14" height="11.00" fill="url(#p5c)" stroke="#00FF00" stroke-width="1"/>
<rect x="329.50" y="956.50" width="14" height="17.00" fill="url(#p5a)" stroke="#000000" stroke-width="1"/>
<rect x="343.50" y="954.50" width="14" height="19.00" fill="url(#p5c)" stroke="#00FF00" stroke-width="1"/>
<rect x="363.50" y="958.50" width="14" height="15.00" fill="url(#p5a)" stroke="#000000" stroke-width="1"/>
<rect x="377.50" y="955.50" width="14" height="18.00" fill="url(#p5c)" stroke="#00FF00" stroke-width="1"/>
<rect x="48.5" y="705.5" width="347.00" height="268.00" fill="none" stroke="#000" stroke-width="1.3"/>
<line x1="46.4" y1="973.50" x2="48.5" y2="973.50" stroke="#000" stroke-width="1.1"/>
<text x="44.90" y="977.10" text-anchor="end" font-family="Liberation Serif, serif" font-weight="bold" font-size="13.6">0</text>
<line x1="46.4" y1="919.50" x2="48.5" y2="919.50" stroke="#000" stroke-width="1.1"/>
<text x="44.90" y="923.10" text-anchor="end" font-family="Liberation Serif, serif" font-weight="bold" font-size="13.6">2</text>
<line x1="46.4" y1="866.50" x2="48.5" y2="866.50" stroke="#000" stroke-width="1.1"/>
<text x="44.90" y="870.10" text-anchor="end" font-family="Liberation Serif, serif" font-weight="bold" font-size="13.6">4</text>
<line x1="46.4" y1="812.50" x2="48.5" y2="812.50" stroke="#000" stroke-width="1.1"/>
<text x="44.90" y="816.10" text-anchor="end" font-family="Liberation Serif, serif" font-weight="bold" font-size="13.6">6</text>
<line x1="46.4" y1="758.50" x2="48.5" y2="758.50" stroke="#000" stroke-width="1.1"/>
<text x="44.90" y="762.10" text-anchor="end" font-family="Liberation Serif, serif" font-weight="bold" font-size="13.6">8</text>
<line x1="46.4" y1="705.50" x2="48.5" y2="705.50" stroke="#000" stroke-width="1.1"/>
<text x="44.90" y="709.10" text-anchor="end" font-family="Liberation Serif, serif" font-weight="bold" font-size="13.6">10</text>
<line x1="65.50" y1="973.5" x2="65.50" y2="975.6" stroke="#000" stroke-width="1.1"/>
<text transform="translate(74.50,985.90) rotate(-45)" text-anchor="end" font-family="Liberation Serif, serif" font-weight="bold" font-size="13">Aluminium</text>
<line x1="100.50" y1="973.5" x2="100.50" y2="975.6" stroke="#000" stroke-width="1.1"/>
<text transform="translate(109.50,985.90) rotate(-45)" text-anchor="end" font-family="Liberation Serif, serif" font-weight="bold" font-size="13">Cadmium</text>
<line x1="135.50" y1="973.5" x2="135.50" y2="975.6" stroke="#000" stroke-width="1.1"/>
<text transform="translate(144.50,985.90) rotate(-45)" text-anchor="end" font-family="Liberation Serif, serif" font-weight="bold" font-size="13">Cobalt</text>
<line x1="169.50" y1="973.5" x2="169.50" y2="975.6" stroke="#000" stroke-width="1.1"/>
<text transform="translate(178.50,985.90) rotate(-45)" text-anchor="end" font-family="Liberation Serif, serif" font-weight="bold" font-size="13">Chromium</text>
<line x1="204.50" y1="973.5" x2="204.50" y2="975.6" stroke="#000" stroke-width="1.1"/>
<text transform="translate(213.50,985.90) rotate(-45)" text-anchor="end" font-family="Liberation Serif, serif" font-weight="bold" font-size="13">Copper</text>
<line x1="239.50" y1="973.5" x2="239.50" y2="975.6" stroke="#000" stroke-width="1.1"/>
<text transform="translate(248.50,985.90) rotate(-45)" text-anchor="end" font-family="Liberation Serif, serif" font-weight="bold" font-size="13">Iron</text>
<line x1="273.50" y1="973.5" x2="273.50" y2="975.6" stroke="#000" stroke-width="1.1"/>
<text transform="translate(282.50,985.90) rotate(-45)" text-anchor="end" font-family="Liberation Serif, serif" font-weight="bold" font-size="13">Manganese</text>
<line x1="308.50" y1="973.5" x2="308.50" y2="975.6" stroke="#000" stroke-width="1.1"/>
<text transform="translate(317.50,985.90) rotate(-45)" text-anchor="end" font-family="Liberation Serif, serif" font-weight="bold" font-size="13">Nickel</text>
<line x1="343.50" y1="973.5" x2="343.50" y2="975.6" stroke="#000" stroke-width="1.1"/>
<text transform="translate(352.50,985.90) rotate(-45)" text-anchor="end" font-family="Liberation Serif, serif" font-weight="bold" font-size="13">Lead</text>
<line x1="377.50" y1="973.5" x2="377.50" y2="975.6" stroke="#000" stroke-width="1.1"/>
<text transform="translate(386.50,985.90) rotate(-45)" text-anchor="end" font-family="Liberation Serif, serif" font-weight="bold" font-size="13">Zinc</text>
<text transform="translate(27.1,925.40) rotate(-90)" xml:space="preserve" textLength="174.0" lengthAdjust="spacingAndGlyphs" font-family="Liberation Serif, serif" font-weight="bold" font-size="16.5">THQ (flower vegetables)</text>
<text transform="translate(412.2,803.05) rotate(-90)" textLength="88.1" lengthAdjust="spacingAndGlyphs" font-family="Liberation Serif, serif" font-weight="bold" font-size="18.2">Health risk</text>
<path transform="translate(408.1,966.9)" d="M0 0V-10.7H-0.9C-1.3 -9.7 -2.4 -8.7 -3.6 -8.1V-6.8C-2.8 -7.1 -1.9 -7.65 -1.35 -8.2V0Z" fill="#000"/>
<rect x="297.50" y="712.50" width="74" height="29" fill="#fff" stroke="#000" stroke-width="1.1"/>
<rect x="299.50" y="713.50" width="25" height="12" fill="url(#p5a)" stroke="#000000" stroke-width="1"/>
<rect x="299.50" y="727.50" width="25" height="12" fill="url(#p5c)" stroke="#00FF00" stroke-width="1"/>
<text x="326.90" y="723.00" font-family="Liberation Serif, serif" font-weight="bold" font-size="11">Adults</text>
<text x="326.90" y="736.50" font-family="Liberation Serif, serif" font-weight="bold" font-size="11">Children</text></g>
<g id="panel6"><line x1="471.5" y1="946.50" x2="818.5" y2="946.50" stroke="#FF0000" stroke-width="1.1"/>
<rect x="475.50" y="965.50" width="14" height="3.00" fill="url(#p6a)" stroke="#FFFF00" stroke-width="1"/>
<rect x="489.50" y="964.50" width="14" height="4.00" fill="url(#p6c)" stroke="#000000" stroke-width="1"/>
<rect x="613.50" y="947.50" width="14" height="21.00" fill="url(#p6a)" stroke="#FFFF00" stroke-width="1"/>
<rect x="627.50" y="943.50" width="14" height="25.00" fill="url(#p6c)" stroke="#000000" stroke-width="1"/>
<rect x="648.50" y="770.50" width="14" height="198.00" fill="url(#p6a)" stroke="#FFFF00" stroke-width="1"/>
<rect x="662.50" y="740.50" width="14" height="228.00" fill="url(#p6c)" stroke="#000000" stroke-width="1"/>
<rect x="683.50" y="960.50" width="14" height="8.00" fill="url(#p6a)" stroke="#FFFF00" stroke-width="1"/>
<rect x="697.50" y="959.50" width="14" height="9.00" fill="url(#p6c)" stroke="#000000" stroke-width="1"/>
<rect x="717.50" y="956.50" width="14" height="12.00" fill="url(#p6a)" stroke="#FFFF00" stroke-width="1"/>
<rect x="731.50" y="954.50" width="14" height="14.00" fill="url(#p6c)" stroke="#000000" stroke-width="1"/>
<rect x="787.50" y="961.50" width="14" height="7.00" fill="url(#p6a)" stroke="#FFFF00" stroke-width="1"/>
<rect x="801.50" y="960.50" width="14" height="8.00" fill="url(#p6c)" stroke="#000000" stroke-width="1"/>
<rect x="471.5" y="701.5" width="347.00" height="267.00" fill="none" stroke="#000" stroke-width="1.3"/>
<line x1="469.4" y1="968.50" x2="471.5" y2="968.50" stroke="#000" stroke-width="1.1"/>
<text x="467.90" y="972.10" text-anchor="end" font-family="Liberation Serif, serif" font-weight="bold" font-size="13.6">0</text>
<line x1="469.4" y1="923.50" x2="471.5" y2="923.50" stroke="#000" stroke-width="1.1"/>
<text x="467.90" y="927.10" text-anchor="end" font-family="Liberation Serif, serif" font-weight="bold" font-size="13.6">2</text>
<line x1="469.4" y1="879.50" x2="471.5" y2="879.50" stroke="#000" stroke-width="1.1"/>
<text x="467.90" y="883.10" text-anchor="end" font-family="Liberation Serif, serif" font-weight="bold" font-size="13.6">4</text>
<line x1="469.4" y1="834.50" x2="471.5" y2="834.50" stroke="#000" stroke-width="1.1"/>
<text x="467.90" y="838.10" text-anchor="end" font-family="Liberation Serif, serif" font-weight="bold" font-size="13.6">6</text>
<line x1="469.4" y1="790.50" x2="471.5" y2="790.50" stroke="#000" stroke-width="1.1"/>
<text x="467.90" y="794.10" text-anchor="end" font-family="Liberation Serif, serif" font-weight="bold" font-size="13.6">8</text>
<line x1="469.4" y1="745.50" x2="471.5" y2="745.50" stroke="#000" stroke-width="1.1"/>
<text x="467.90" y="749.10" text-anchor="end" font-family="Liberation Serif, serif" font-weight="bold" font-size="13.6">10</text>
<line x1="469.4" y1="701.50" x2="471.5" y2="701.50" stroke="#000" stroke-width="1.1"/>
<text x="467.90" y="705.10" text-anchor="end" font-family="Liberation Serif, serif" font-weight="bold" font-size="13.6">12</text>
<line x1="489.50" y1="968.5" x2="489.50" y2="970.6" stroke="#000" stroke-width="1.1"/>
<line x1="506.85" y1="968.5" x2="506.85" y2="970.5" stroke="#000" stroke-width="1"/>
<text transform="translate(498.50,980.90) rotate(-45)" text-anchor="end" font-family="Liberation Serif, serif" font-weight="bold" font-size="13">Aluminium</text>
<line x1="523.50" y1="968.5" x2="523.50" y2="970.6" stroke="#000" stroke-width="1.1"/>
<line x1="540.85" y1="968.5" x2="540.85" y2="970.5" stroke="#000" stroke-width="1"/>
<text transform="translate(532.50,980.90) rotate(-45)" text-anchor="end" font-family="Liberation Serif, serif" font-weight="bold" font-size="13">Cadmium</text>
<line x1="558.50" y1="968.5" x2="558.50" y2="970.6" stroke="#000" stroke-width="1.1"/>
<line x1="575.85" y1="968.5" x2="575.85" y2="970.5" stroke="#000" stroke-width="1"/>
<text transform="translate(567.50,980.90) rotate(-45)" text-anchor="end" font-family="Liberation Serif, serif" font-weight="bold" font-size="13">Cobalt</text>
<line x1="593.50" y1="968.5" x2="593.50" y2="970.6" stroke="#000" stroke-width="1.1"/>
<line x1="610.85" y1="968.5" x2="610.85" y2="970.5" stroke="#000" stroke-width="1"/>
<text transform="translate(602.50,980.90) rotate(-45)" text-anchor="end" font-family="Liberation Serif, serif" font-weight="bold" font-size="13">Chromium</text>
<line x1="627.50" y1="968.5" x2="627.50" y2="970.6" stroke="#000" stroke-width="1.1"/>
<line x1="644.85" y1="968.5" x2="644.85" y2="970.5" stroke="#000" stroke-width="1"/>
<text transform="translate(636.50,980.90) rotate(-45)" text-anchor="end" font-family="Liberation Serif, serif" font-weight="bold" font-size="13">Copper</text>
<line x1="662.50" y1="968.5" x2="662.50" y2="970.6" stroke="#000" stroke-width="1.1"/>
<line x1="679.85" y1="968.5" x2="679.85" y2="970.5" stroke="#000" stroke-width="1"/>
<text transform="translate(671.50,980.90) rotate(-45)" text-anchor="end" font-family="Liberation Serif, serif" font-weight="bold" font-size="13">Iron</text>
<line x1="697.50" y1="968.5" x2="697.50" y2="970.6" stroke="#000" stroke-width="1.1"/>
<line x1="714.85" y1="968.5" x2="714.85" y2="970.5" stroke="#000" stroke-width="1"/>
<text transform="translate(706.50,980.90) rotate(-45)" text-anchor="end" font-family="Liberation Serif, serif" font-weight="bold" font-size="13">Manganese</text>
<line x1="731.50" y1="968.5" x2="731.50" y2="970.6" stroke="#000" stroke-width="1.1"/>
<line x1="748.85" y1="968.5" x2="748.85" y2="970.5" stroke="#000" stroke-width="1"/>
<text transform="translate(740.50,980.90) rotate(-45)" text-anchor="end" font-family="Liberation Serif, serif" font-weight="bold" font-size="13">Nickel</text>
<line x1="766.50" y1="968.5" x2="766.50" y2="970.6" stroke="#000" stroke-width="1.1"/>
<line x1="783.85" y1="968.5" x2="783.85" y2="970.5" stroke="#000" stroke-width="1"/>
<text transform="translate(775.50,980.90) rotate(-45)" text-anchor="end" font-family="Liberation Serif, serif" font-weight="bold" font-size="13">Lead</text>
<line x1="801.50" y1="968.5" x2="801.50" y2="970.6" stroke="#000" stroke-width="1.1"/>
<text transform="translate(810.50,980.90) rotate(-45)" text-anchor="end" font-family="Liberation Serif, serif" font-weight="bold" font-size="13">Zinc</text>
<text transform="translate(450.3,880.60) rotate(-90)" xml:space="preserve" textLength="93.2" lengthAdjust="spacingAndGlyphs" font-family="Liberation Serif, serif" font-weight="bold" font-size="16.5">THQ (tuber)</text>
<text transform="translate(839.3,875.05) rotate(-90)" textLength="87.3" lengthAdjust="spacingAndGlyphs" font-family="Liberation Serif, serif" font-weight="bold" font-size="18.2">Health risk</text>
<path transform="translate(840.2,950.9)" d="M0 0V-10.7H-0.9C-1.3 -9.7 -2.4 -8.7 -3.6 -8.1V-6.8C-2.8 -7.1 -1.9 -7.65 -1.35 -8.2V0Z" fill="#000"/>
<rect x="721.50" y="708.50" width="74" height="29" fill="#fff" stroke="#000" stroke-width="1.1"/>
<rect x="723.50" y="709.50" width="25" height="12" fill="url(#p6a)" stroke="#FFFF00" stroke-width="1"/>
<rect x="723.50" y="723.50" width="25" height="12" fill="url(#p6c)" stroke="#000000" stroke-width="1"/>
<text x="750.90" y="719.00" font-family="Liberation Serif, serif" font-weight="bold" font-size="11">Adults</text>
<text x="750.90" y="732.50" font-family="Liberation Serif, serif" font-weight="bold" font-size="11">Children</text></g>
<text x="139" y="1063.6" font-family="Liberation Sans, sans-serif" font-weight="bold" font-size="17.6" textLength="573" lengthAdjust="spacingAndGlyphs">Figure 6: THQ in adults and children due to contaminated vegetables</text>
</svg>
</body></html>
